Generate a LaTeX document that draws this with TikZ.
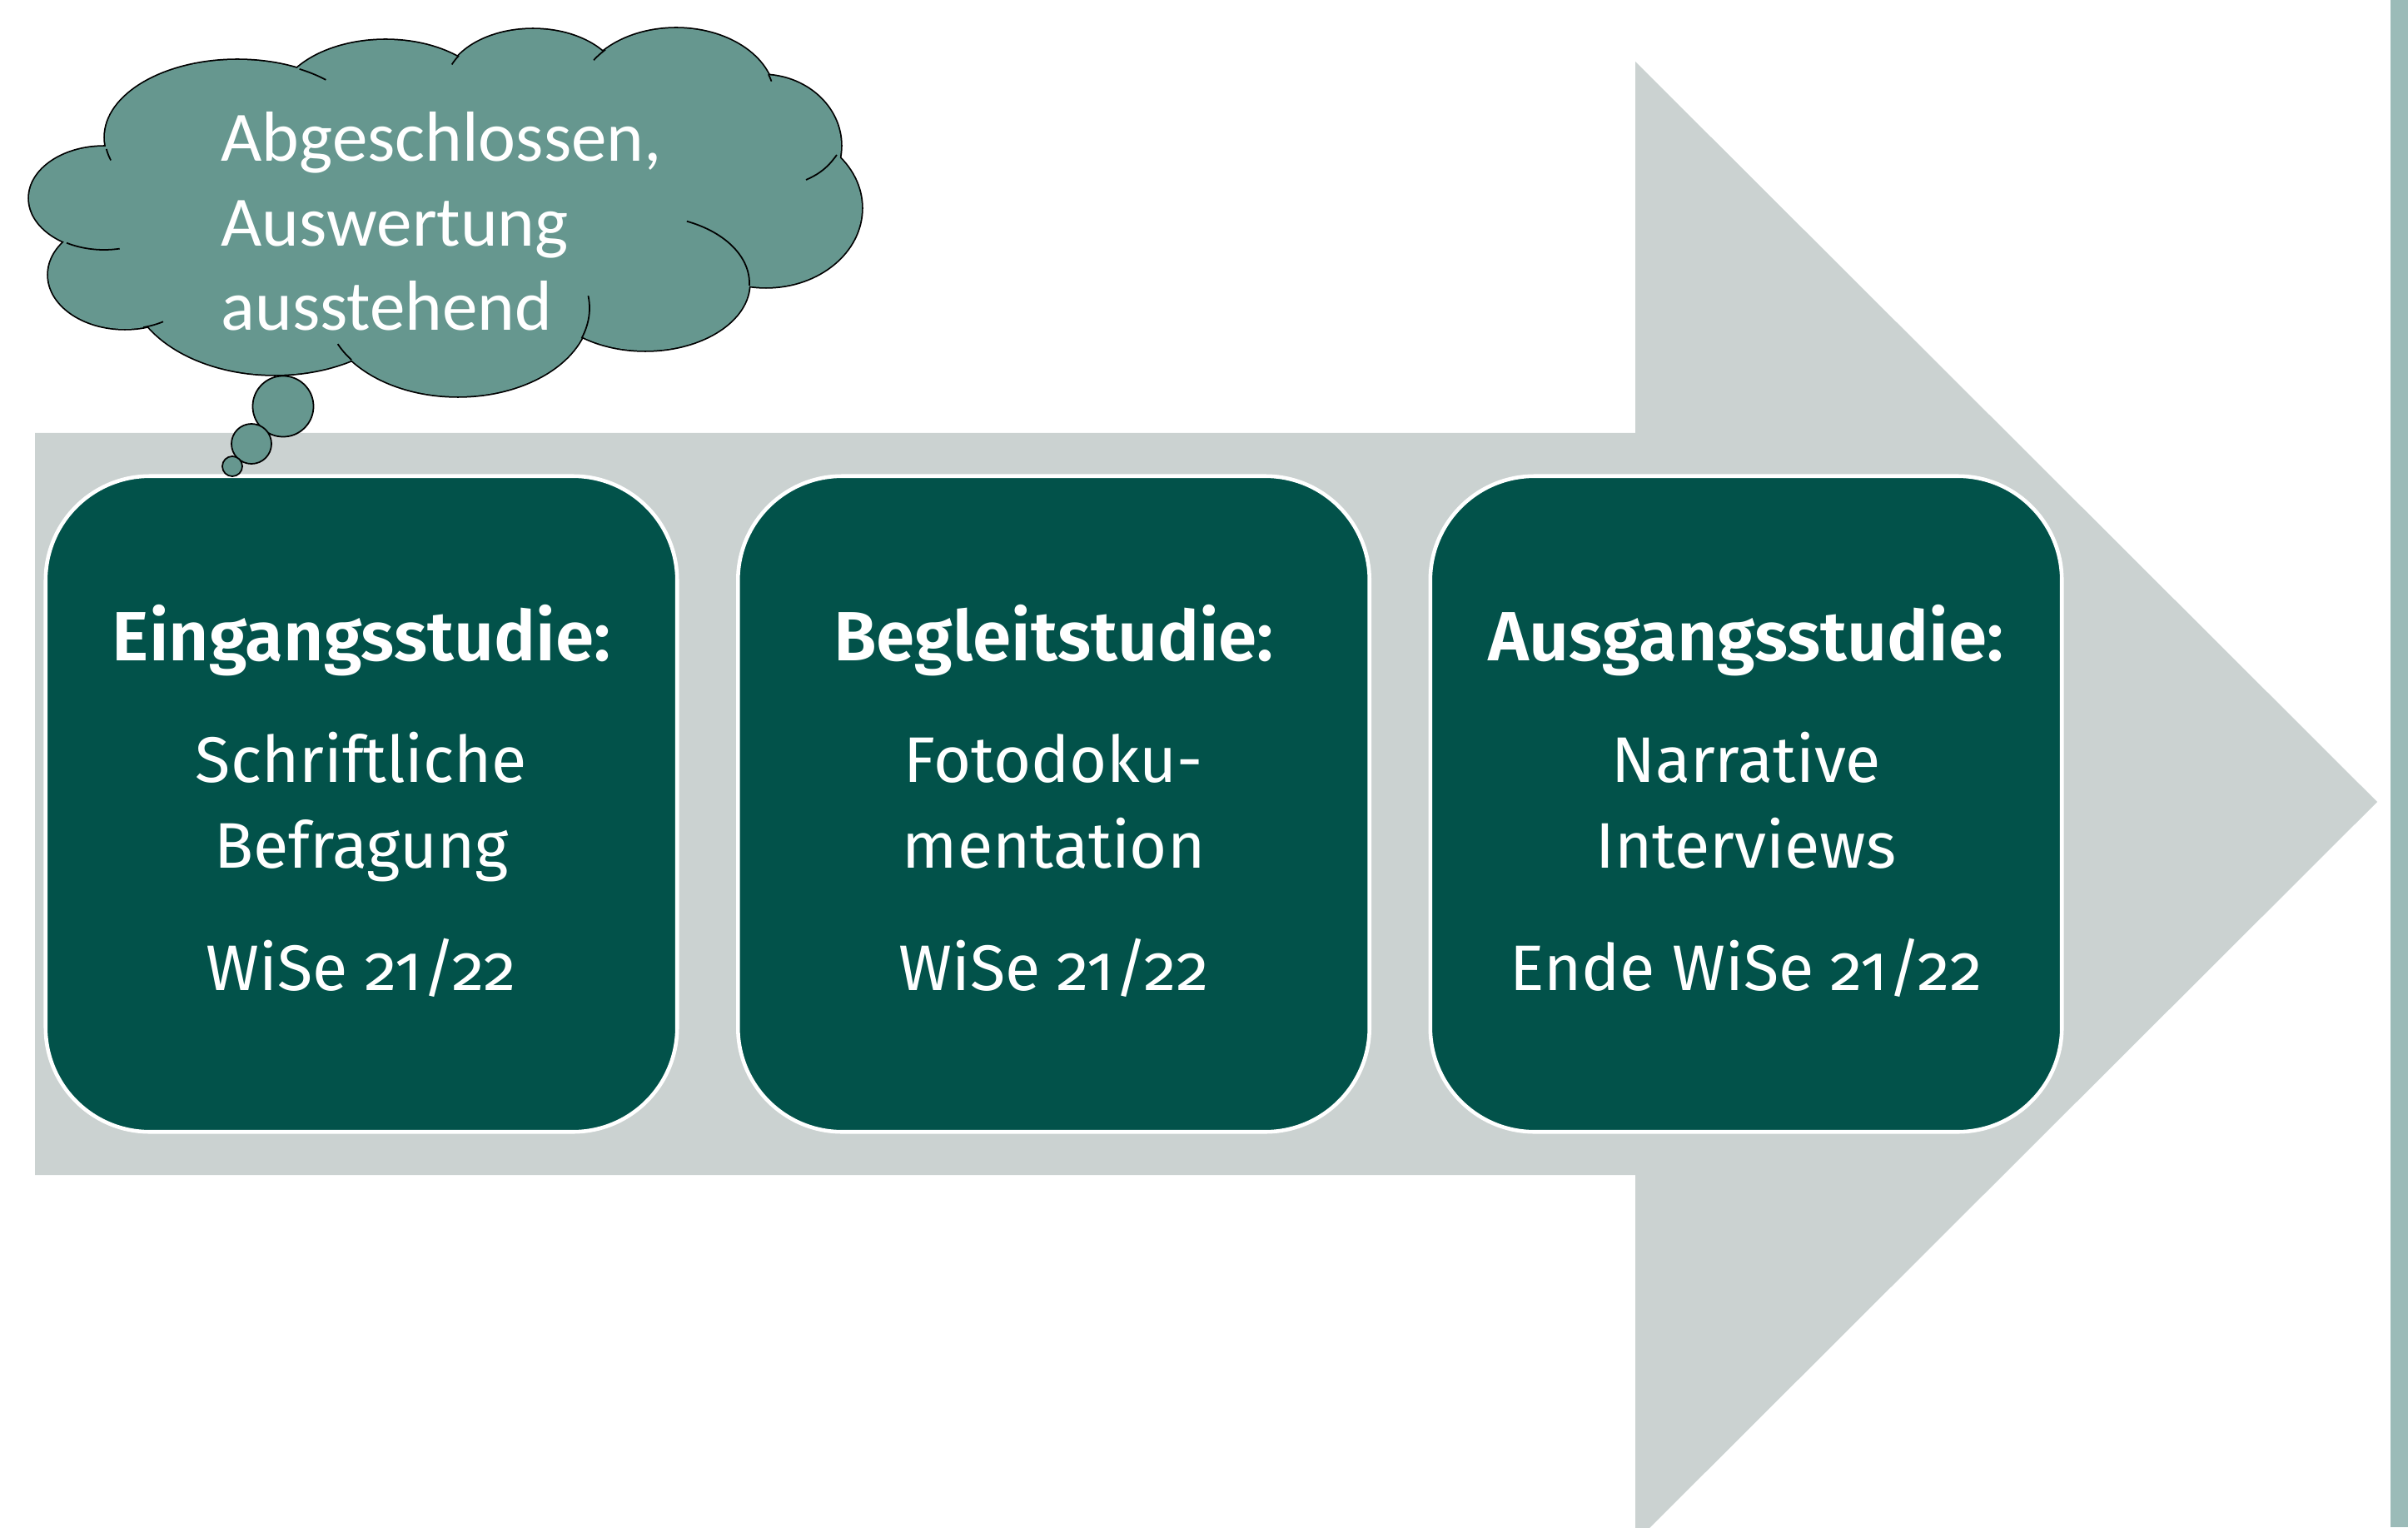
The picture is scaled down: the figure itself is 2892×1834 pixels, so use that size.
\documentclass[tikz,border=0pt]{standalone}
\usepackage{fontspec}
\setmainfont{Fira Sans}[Numbers=OldStyle, BoldFont={Fira Sans SemiBold}]
\newfontfamily\cloudfont{Carlito}
\definecolor{arrowgray}{HTML}{CBD2D1}
\definecolor{boxgreen}{HTML}{02524A}
\definecolor{cloudgreen}{HTML}{66978F}
\definecolor{bargreen}{HTML}{9BBBB8}
\begin{document}
\begin{tikzpicture}[x=0.01cm,y=0.01cm,
  stage/.style={draw=white, line width=1.3pt, fill=boxgreen, rounded corners=1.25cm,
    minimum width=7.58cm, minimum height=7.87cm, inner sep=0pt},
  stagetext/.style={text=white, align=center, font=\fontsize{22}{29.2}\selectfont,
    inner sep=0pt, anchor=north},
  puffline/.style={draw=black, line width=0.5pt},
  bubble/.style={draw=black, line width=0.5pt, fill=cloudgreen},
  cloudtext/.style={text=white, font=\cloudfont\fontsize{24.2}{28.8}\selectfont,
    align=left, anchor=north west, inner sep=0pt}
]
\useasboundingbox (0,0) rectangle (2892,-1834);
\fill[white] (0,0) rectangle (2892,-1834);
\fill[bargreen] (2871,0) rectangle (2892,-1834);
% big arrow
\fill[arrowgray] (42,-520) -- (1964,-520) -- (1964,-74) -- (2855,-963)
  -- (1964,-1852) -- (1964,-1411) -- (42,-1411) -- cycle;

% stage boxes
\node[stage] (b1) at (434,-965.5) {};
\node[stage] (b2) at (1265.5,-965.5) {};
\node[stage] (b3) at (2097,-965.5) {};

\node[stagetext] (t1) at (434,-726)
  {{\fontsize{23.8}{29.2}\selectfont\bfseries Eingangsstudie:}\\[12.3pt]Schriftliche\\Befragung\\[12.6pt]WiSe 21/22};
\node[stagetext] (t2) at (1265.5,-726)
  {{\fontsize{23.8}{29.2}\selectfont\bfseries Begleitstudie:}\\[12.3pt]Fotodoku-\\mentation\\[12.6pt]WiSe 21/22};
\node[stagetext] (t3) at (2097,-726)
  {{\fontsize{23.8}{29.2}\selectfont\bfseries Ausgangsstudie:}\\[12.3pt]Narrative\\Interviews\\[12.6pt]Ende WiSe 21/22};

% thought cloud: outline of a union of ellipses
\def\puffs{285/165/159/93, 463/128/130/80, 640/103/105/68, 812/118/118/84,
  915/175/95/85, 920/250/115/95, 775/340/125/81, 550/370/158/106,
  330/335/175/115, 150/330/92/65, 125/238/90/62}
\foreach \cx/\cy/\rx/\ry in \puffs
  \draw[black, line width=1pt] (\cx,-\cy) ellipse [x radius=\rx, y radius=\ry];
\foreach \cx/\cy/\rx/\ry in \puffs
  \fill[cloudgreen] (\cx,-\cy) ellipse [x radius=\rx, y radius=\ry];
\fill[cloudgreen] (125,-238) -- (285,-165) -- (463,-128) -- (640,-103) -- (812,-118)
  -- (915,-175) -- (920,-250) -- (775,-340) -- (550,-370) -- (330,-335) -- (150,-330) -- cycle;
% inner arc stubs
\foreach \cx/\cy/\rx/\ry/\sa/\ea in {285/165/159/93/188.6/197.2, 285/165/159/93/62/48,
  640/103/105/68/148/158, 812/118/118/84/136/147, 812/118/118/84/20/14,
  775/340/125/81/66.5/-2, 550/370/158/106/-20/8, 550/370/158/106/216/204,
  150/330/92/65/-76/-60, 125/238/90/62/-120/-78}
  \draw[puffline] ({\cx+\rx*cos(\sa)},{-\cy+\ry*sin(\sa)})
    arc[start angle=\sa, end angle=\ea, x radius=\rx, y radius=\ry];
\draw[puffline] (1005,-186) to[bend left=15] (968,-216);

\node[cloudtext] (ct) at (265,-134) {Abgeschlossen,\\Auswertung\\ausstehend};

% thought bubbles
\node[bubble, circle, minimum size=0.73cm, inner sep=0pt] (p1) at (340,-488) {};
\node[bubble, circle, minimum size=0.48cm, inner sep=0pt] (p2) at (302,-533) {};
\node[bubble, circle, minimum size=0.24cm, inner sep=0pt] (p3) at (279,-560) {};
\end{tikzpicture}
\end{document}
